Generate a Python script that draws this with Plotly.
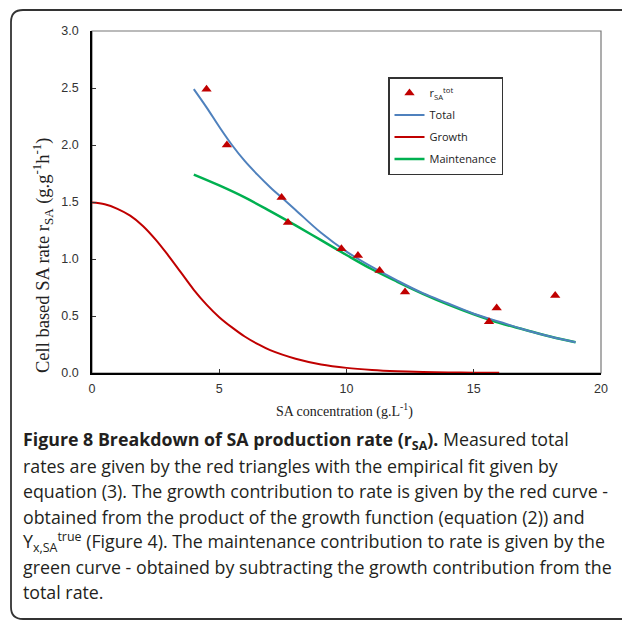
import plotly.graph_objects as go

# ---------------- data ----------------
meas_x = [4.5, 5.3, 7.45, 7.7, 9.8, 10.45, 11.3, 12.3, 15.6, 15.9, 18.2]
meas_y = [2.49, 2.00, 1.54, 1.32, 1.09, 1.03, 0.90, 0.71, 0.45, 0.57, 0.68]

total_x = [4, 4.5, 5, 5.5, 6, 6.5, 7, 7.5, 8, 9, 10, 11, 12, 13, 14, 15, 16, 17, 18, 19]
total_y = [2.49, 2.33, 2.16, 2.00, 1.86, 1.74, 1.63, 1.53, 1.43, 1.23, 1.065, 0.93, 0.81,
           0.70, 0.61, 0.52, 0.45, 0.38, 0.32, 0.27]

growth_x = [0, 0.5, 1, 1.5, 2, 2.5, 3, 3.5, 4, 4.5, 5, 5.5, 6, 6.5, 7, 8, 9, 10, 11, 12,
            13, 14, 15, 16]
growth_y = [1.495, 1.48, 1.44, 1.38, 1.29, 1.17, 1.03, 0.88, 0.73, 0.60, 0.49, 0.40, 0.32,
            0.255, 0.20, 0.125, 0.075, 0.045, 0.027, 0.016, 0.009, 0.005, 0.003, 0.002]

maint_x = [4, 5, 6, 7, 8, 9, 10, 11, 12, 13, 14, 15, 16, 17, 18, 19]
maint_y = [1.74, 1.645, 1.54, 1.42, 1.295, 1.165, 1.035, 0.91, 0.80, 0.695, 0.60, 0.515,
           0.44, 0.38, 0.32, 0.27]

x_ticks = [0, 5, 10, 15, 20]
y_ticks = [0.0, 0.5, 1.0, 1.5, 2.0, 2.5, 3.0]
y_tick_labels = ["0.0", "0.5", "1.0", "1.5", "2.0", "2.5", "3.0"]

caption_lines = [
    "<b>Figure 8 Breakdown of SA production rate (r<sub>SA</sub>).</b> Measured total",
    "rates are given by the red triangles with the empirical fit given by",
    "equation (3). The growth contribution to rate is given by the red curve -",
    "obtained from the product of the growth function (equation (2)) and",
    "Y<sub>x,SA</sub><sup>true</sup> (Figure 4). The maintenance contribution to rate is given by the",
    "green curve - obtained by subtracting the growth contribution from the",
    "total rate.",
]

# ---------------- geometry (pixels) ----------------
W, H = 622, 620
L, R, T, B = 92, 601, 31, 373  # plot area edges


def px(xp):
    return (xp - L) / (R - L)


def py(yp):
    return (B - yp) / (B - T)


fig = go.Figure()

fig.add_trace(go.Scatter(x=growth_x, y=growth_y, mode="lines", name="Growth",
                         legendgroup="c",
                         line=dict(color="#C00000", width=2, shape="spline"),
                         legendrank=3))
fig.add_trace(go.Scatter(x=maint_x, y=maint_y, mode="lines", name="Maintenance",
                         legendgroup="d",
                         line=dict(color="#00B050", width=2.5, shape="spline"),
                         legendrank=4))
fig.add_trace(go.Scatter(x=total_x, y=total_y, mode="lines", name="Total",
                         legendgroup="b",
                         line=dict(color="#4F81BD", width=2, shape="spline"),
                         legendrank=2))
fig.add_trace(go.Scatter(x=meas_x, y=meas_y, mode="markers",
                         name="r<sub>SA</sub><sup>tot</sup>", legendgroup="a",
                         marker=dict(symbol="triangle-up", size=9, color="#C00000"),
                         legendrank=1))

axis_font = dict(family="Liberation Sans, Arial", size=12.5, color="#333333")

fig.update_xaxes(range=[0, 20], tickvals=x_ticks, ticks="inside", ticklen=4,
                 tickcolor="#333333", showline=True, linecolor="black", linewidth=1.5,
                 showgrid=False, zeroline=False, tickfont=axis_font,
                 ticklabelstandoff=3)
fig.update_yaxes(range=[0, 3], tickvals=y_ticks, ticktext=y_tick_labels, ticks="inside",
                 ticklen=4, tickcolor="#333333", showline=True, linecolor="black",
                 linewidth=1.5, showgrid=False, zeroline=False, tickfont=axis_font,
                 ticklabelstandoff=9)

shapes = []
# top/right frame of plot area
shapes.append(dict(type="rect", xref="paper", yref="paper", x0=0, y0=0, x1=1, y1=1,
                   line=dict(color="#777777", width=1.2), layer="below"))
# outer rounded frame
xl, xr = px(11), px(640)
yt, yb = py(10), py(619)
rx, ry = px(23), py(22)
ryb = py(607)
path = (f"M {xl},{ryb} L {xl},{ry} Q {xl},{yt} {rx},{yt} L {xr},{yt} "
        f"M {xl},{ryb} Q {xl},{yb} {rx},{yb} L {xr},{yb}")
shapes.append(dict(type="path", xref="paper", yref="paper", path=path,
                   line=dict(color="#333333", width=1.8)))

annotations = []
annotations.append(dict(text="Cell based SA rate r<sub>SA</sub> (g.g<sup>-1</sup>h<sup>-1</sup>)",
                        xref="paper", yref="paper", x=px(42), y=py(256), showarrow=False,
                        textangle=-90, xanchor="center", yanchor="middle",
                        font=dict(family="Liberation Serif, Times New Roman", size=18.5,
                                  color="#222222")))
annotations.append(dict(text="SA concentration (g.L<sup>-1</sup>)",
                        xref="paper", yref="paper", x=px(344), y=py(410), showarrow=False,
                        xanchor="center", yanchor="middle",
                        font=dict(family="Liberation Serif, Times New Roman", size=14,
                                  color="#222222")))

line_y0 = 441
for i, line in enumerate(caption_lines):
    annotations.append(dict(text=line, xref="paper", yref="paper", x=px(21),
                            y=py(line_y0 + i * 25.2), showarrow=False,
                            xanchor="left", yanchor="middle", align="left",
                            font=dict(family="Open Sans", size=17.8, color="#231F20")))

fig.update_layout(
    width=W, height=H,
    margin=dict(l=L, r=W - R, t=T, b=H - B),
    paper_bgcolor="white", plot_bgcolor="white",
    showlegend=True,
    legend=dict(x=px(388), y=py(77), xanchor="left", yanchor="top",
                bordercolor="#333333", borderwidth=1.5, bgcolor="white",
                font=dict(family="Open Sans", size=11, color="#222222"),
                itemwidth=30, tracegroupgap=3, traceorder="grouped"),
    shapes=shapes,
    annotations=annotations,
)

fig.write_html("out.html")
